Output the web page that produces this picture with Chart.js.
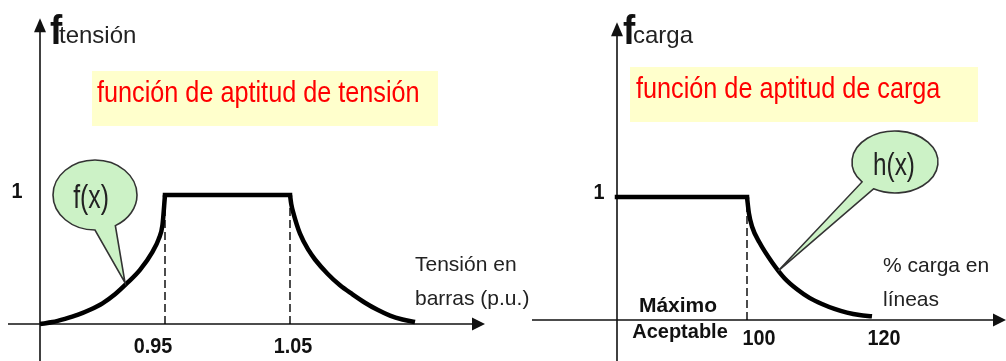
<!DOCTYPE html>
<html><head><meta charset="utf-8">
<script src="https://cdn.jsdelivr.net/npm/chart.js@4/dist/chart.umd.min.js"></script>
<style>
html,body{margin:0;padding:0;background:#fff;overflow:hidden}
#wrap{position:relative;width:1006px;height:361px}
canvas{position:absolute;top:0}
</style></head><body>
<div id="wrap">
<canvas id="left" width="560" height="361" style="left:0px"></canvas>
<canvas id="right" width="506" height="361" style="left:500px"></canvas>
</div>
<script>
// ---------- data ----------
// voltage fitness f(x), x in p.u.
const voltRiseX  = [0.85, 0.86, 0.87, 0.88, 0.89, 0.90, 0.91, 0.92, 0.93, 0.94, 0.945, 0.948, 0.95];
const voltRiseY  = [0,    0.015,0.04, 0.07, 0.11, 0.16, 0.23, 0.32, 0.42, 0.56, 0.66,  0.77,  1];
const voltFlatX  = [0.95, 1.05];
const voltFlatY  = [1, 1];
const voltFallX  = [1.05, 1.051, 1.053, 1.058, 1.065, 1.07, 1.08, 1.09, 1.10, 1.11, 1.12, 1.13, 1.14, 1.15];
const voltFallY  = [1,    0.93,  0.85,  0.70,  0.57,  0.50, 0.39, 0.30, 0.23, 0.165,0.11, 0.065,0.035,0.015];
const voltTicks  = [0.95, 1.05];
const voltTickLabels = ['0.95', '1.05'];
// load fitness h(x), x in % load
const loadFlatX  = [79.2, 100];
const loadFlatY  = [1, 1];
const loadFallX  = [100, 100.3, 100.8, 102, 104, 106, 108, 110, 112, 114, 116, 118, 120];
const loadFallY  = [1,   0.87,  0.76,  0.63, 0.47, 0.34, 0.25, 0.18, 0.13, 0.09, 0.06, 0.04, 0.03];
const loadTicks  = [100, 120];
const loadTickLabels = ['100', '120'];
const yTick = 1;
const yTickLabel = '1';

// ---------- helpers ----------
const pts = (xs, ys) => xs.map((x, i) => ({x: x, y: ys[i]}));
const FONT = '"Liberation Sans", Arial, sans-serif';
function txt(ctx, s, x, y, size, opt) {
  opt = opt || {};
  ctx.save();
  ctx.font = (opt.bold ? 'bold ' : '') + size + 'px ' + FONT;
  ctx.fillStyle = opt.color || '#222';
  ctx.textBaseline = 'alphabetic';
  const sx = opt.sx || 1;
  const w = ctx.measureText(s).width * sx;
  let x0 = x;
  if (opt.align === 'center') x0 = x - w / 2;
  ctx.translate(x0, y);
  ctx.scale(sx, 1);
  ctx.fillText(s, 0, 0);
  ctx.restore();
}
function axes(ctx, X, Y, a) {
  ctx.save();
  ctx.strokeStyle = '#111'; ctx.fillStyle = '#111'; ctx.lineWidth = 1.6;
  const y0 = Y(0), x0 = X(a.yAxisAt);
  const xa = X(a.xFrom), xb = X(a.xTo);
  ctx.beginPath(); ctx.moveTo(xa, y0); ctx.lineTo(xb - 8, y0); ctx.stroke();
  ctx.beginPath(); ctx.moveTo(xb, y0); ctx.lineTo(xb - 13, y0 - 6.5); ctx.lineTo(xb - 13, y0 + 6.5); ctx.closePath(); ctx.fill();
  const yt = Y(a.yTo), yb = Y(a.yFrom);
  ctx.beginPath(); ctx.moveTo(x0, yb); ctx.lineTo(x0, yt + 8); ctx.stroke();
  ctx.beginPath(); ctx.moveTo(x0, yt); ctx.lineTo(x0 - 6, yt + 14); ctx.lineTo(x0 + 6, yt + 14); ctx.closePath(); ctx.fill();
  ctx.restore();
}
function balloon(ctx, cx, cy, rx, ry, a1, a2, tx, ty) {
  ctx.save();
  ctx.beginPath();
  ctx.ellipse(cx, cy, rx, ry, 0, a1 * Math.PI / 180, a2 * Math.PI / 180, false);
  ctx.lineTo(tx, ty);
  ctx.closePath();
  ctx.fillStyle = '#ccf2c6';
  ctx.fill();
  ctx.strokeStyle = '#333'; ctx.lineWidth = 1.6;
  ctx.stroke();
  ctx.restore();
}
function titleBox(ctx, x, y, w, h, s, tx, ty) {
  ctx.save();
  ctx.fillStyle = '#ffffcc';
  ctx.fillRect(x, y, w, h);
  ctx.restore();
  txt(ctx, s, tx, ty, 29, {color: '#ff0000', sx: 0.87});
}

function baseOptions(xmin, xmax, ymin, ymax) {
  return {
    responsive: false, maintainAspectRatio: false, animation: false,
    devicePixelRatio: 1,
    layout: {padding: 0},
    scales: {
      x: {type: 'linear', display: false, min: xmin, max: xmax},
      y: {type: 'linear', display: false, min: ymin, max: ymax}
    },
    plugins: {legend: {display: false}, tooltip: {enabled: false}},
    elements: {point: {radius: 0}}
  };
}
const curve = (data, cap) => ({
  data: data, borderColor: '#000', borderWidth: 4.5, fill: false,
  cubicInterpolationMode: 'monotone', borderCapStyle: cap || 'butt', borderJoinStyle: 'round', pointRadius: 0
});
const dashed = (x) => ({
  data: [{x: x, y: 0}, {x: x, y: 1}], borderColor: '#000', borderWidth: 1.4,
  borderDash: [8, 4], fill: false, pointRadius: 0, tension: 0
});

// ---------- left chart: voltage ----------
const leftDeco = {
  id: 'leftDeco',
  beforeDatasetsDraw(chart) {
    const ctx = chart.ctx;
    const X = v => chart.scales.x.getPixelForValue(v), Y = v => chart.scales.y.getPixelForValue(v);
    axes(ctx, X, Y, {yAxisAt: 0.85, xFrom: 0.8244, xTo: 1.206, yFrom: -0.29, yTo: 2.37});
    titleBox(ctx, 92, 71, 346, 55, 'función de aptitud de tensión', 97, 102);
  },
  afterDatasetsDraw(chart) {
    const ctx = chart.ctx;
    const X = v => chart.scales.x.getPixelForValue(v), Y = v => chart.scales.y.getPixelForValue(v);
    txt(ctx, 'f', 50, 44, 40, {bold: true, sx: 0.92, color: '#111'});
    txt(ctx, 'tensión', 59, 43, 24, {color: '#222'});
    voltTicks.forEach((v, i) => txt(ctx, voltTickLabels[i], X(v) - 12 + (i ? 15 : 0), 353, 22, {bold: true, align: 'center', sx: 0.9, color: '#111'}));
    txt(ctx, yTickLabel, 17, Y(yTick) + 3, 22, {bold: true, align: 'center', sx: 0.9, color: '#111'});
    txt(ctx, 'Tensión en', 415, 271, 21, {color: '#222'});
    txt(ctx, 'barras (p.u.)', 415, 305, 21, {color: '#222'});
    balloon(ctx, 95, 195, 42, 35, 90, 61, X(0.918), Y(0.32));
    txt(ctx, 'f(x)', 91, 208, 33, {align: 'center', sx: 0.75, color: '#222'});
  }
};
new Chart(document.getElementById('left'), {
  type: 'line',
  data: {datasets: [
    dashed(voltTicks[0]), dashed(voltTicks[1]),
    curve(pts(voltRiseX, voltRiseY)),
    curve(pts(voltFlatX, voltFlatY), 'square'),
    curve(pts(voltFallX, voltFallY))
  ]},
  options: baseOptions(0.818, 1.266, -0.2868, 2.5116),
  plugins: [leftDeco]
});

// ---------- right chart: load ----------
const rightDeco = {
  id: 'rightDeco',
  beforeDatasetsDraw(chart) {
    const ctx = chart.ctx;
    const X = v => chart.scales.x.getPixelForValue(v), Y = v => chart.scales.y.getPixelForValue(v);
    axes(ctx, X, Y, {yAxisAt: 79.2, xFrom: 65.6, xTo: 141.44, yFrom: -0.34, yTo: 2.42});
    titleBox(ctx, 130, 67, 348, 55, 'función de aptitud de carga', 136, 98);
  },
  afterDatasetsDraw(chart) {
    const ctx = chart.ctx;
    const X = v => chart.scales.x.getPixelForValue(v), Y = v => chart.scales.y.getPixelForValue(v);
    txt(ctx, 'f', 123, 44, 40, {bold: true, sx: 0.92, color: '#111'});
    txt(ctx, 'carga', 133, 43, 24, {color: '#222'});
    loadTicks.forEach((v, i) => txt(ctx, loadTickLabels[i], X(v) + 12, 345, 22, {bold: true, align: 'center', sx: 0.9, color: '#111'}));
    txt(ctx, yTickLabel, 99, Y(yTick) + 2, 22, {bold: true, align: 'center', sx: 0.9, color: '#111'});
    txt(ctx, 'Máximo', 178, 312, 21, {bold: true, align: 'center', color: '#111'});
    txt(ctx, 'Aceptable', 180, 338, 20, {bold: true, align: 'center', color: '#111'});
    txt(ctx, '% carga en', 383, 272, 21, {color: '#222'});
    txt(ctx, 'líneas', 383, 306, 21, {color: '#222'});
    balloon(ctx, 395, 162, 43, 31, 140, 120, X(105), Y(0.40));
    txt(ctx, 'h(x)', 394, 175, 32, {align: 'center', sx: 0.76, color: '#222'});
  }
};
new Chart(document.getElementById('right'), {
  type: 'line',
  data: {datasets: [
    dashed(loadTicks[0]),
    curve(pts(loadFlatX, loadFlatY), 'square'),
    curve(pts(loadFallX, loadFallY))
  ]},
  options: baseOptions(60.48, 141.44, -0.3333, 2.6016),
  plugins: [rightDeco]
});
</script>
</body></html>
